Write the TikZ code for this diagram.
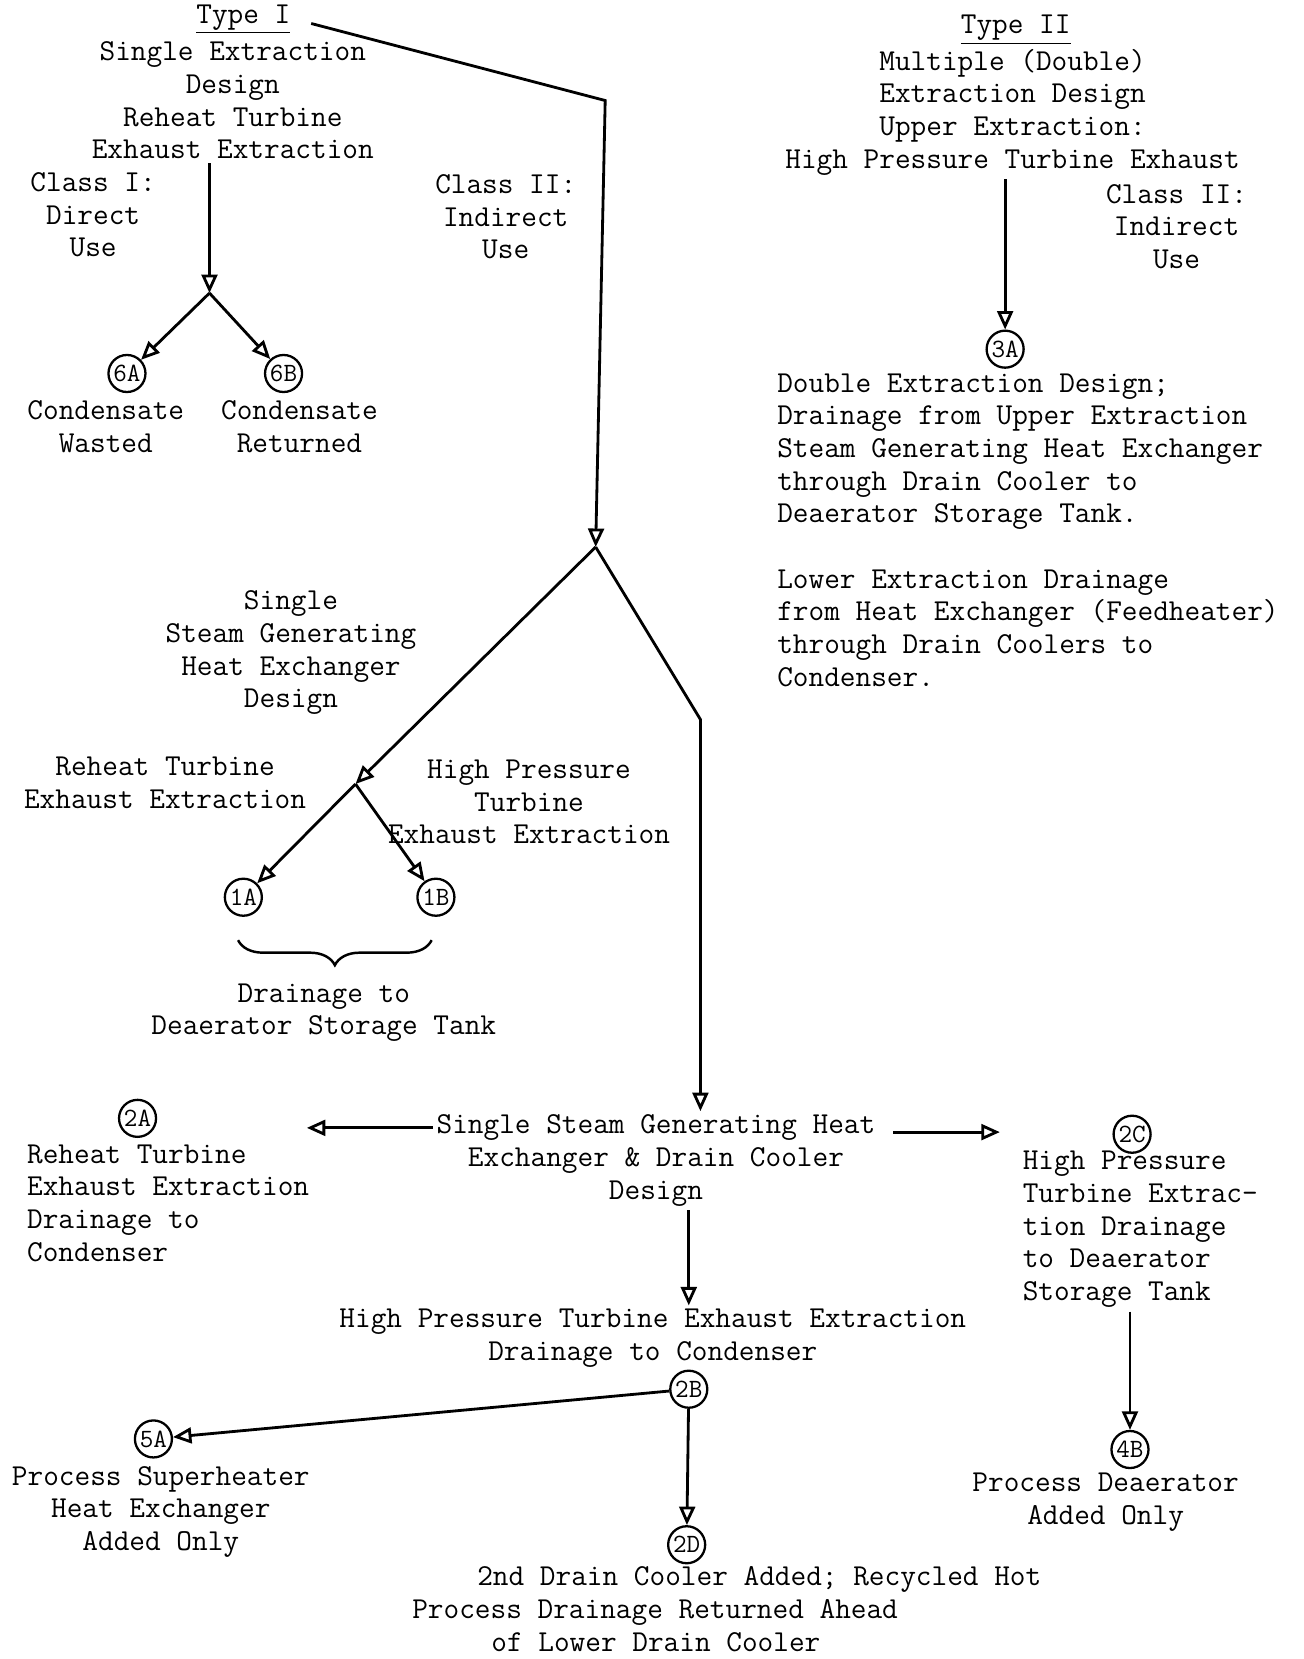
\documentclass[tikz,border=0pt]{standalone}
\usepackage{fontspec}
\usepackage{tikz}
\usetikzlibrary{positioning,arrows.meta,calc,decorations.pathreplacing}
\tikzset{
    txt/.style={
        font=\ttfamily\fontsize{17.3}{18.6}\selectfont,
        align=center,
        inner sep=2pt
    },
    ltxt/.style={
        txt,
        align=left,
        anchor=west
    },
    tag/.style={
        circle,
        draw,
        line width=1.3pt,
        minimum size=0.74cm,
        inner sep=0pt,
        font=\ttfamily\fontsize{15}{15}\selectfont
    },
    arr/.style={-{Triangle[open,length=10.5pt,width=9pt]},line width=1.6pt},
    brc/.style={decorate,decoration={brace,mirror,amplitude=0.5cm},line width=1.4pt}
}

\begin{document}
\begin{tikzpicture}[x=0.021152cm,y=-0.021152cm]
\useasboundingbox (0,0) rectangle (1232,1568);
\node[txt] (type1) at (230,18) {\underline{Type I}};
\node[txt] (t1) at (220,95) {Single Extraction\\Design\\Reheat Turbine\\Exhaust Extraction};
\node[txt] (cls1) at (88,203) {Class I:\\Direct\\Use};
\node[txt] (cls2) at (478,205) {Class II:\\Indirect\\Use};
\coordinate (j0) at (198,277);
\node[tag] (c6a) at (120,353) {6A};
\node[tag] (c6b) at (268,353) {6B};
\node[txt] (lab6a) at (100,403) {Condensate\\Wasted};
\node[txt] (lab6b) at (283,403) {Condensate\\Returned};

\node[txt] (type2) at (960,28) {\underline{Type II}};
\node[txt] (t2) at (957,106) {Multiple (Double)\\Extraction Design\\Upper Extraction:\\High Pressure Turbine Exhaust};
\node[txt] (cls3) at (1112,214) {Class II:\\Indirect\\Use};
\node[tag] (c3a) at (950,330) {3A};
\node[ltxt] (t3) at (731,501) {Double Extraction Design;\\Drainage from Upper Extraction\\Steam Generating Heat Exchanger\\through Drain Cooler to\\Deaerator Storage Tank.\\[18.6pt]Lower Extraction Drainage\\from Heat Exchanger (Feedheater)\\through Drain Coolers to\\Condenser.};

\coordinate (k1) at (572,95);
\coordinate (j1) at (563,517);
\coordinate (k2) at (662,680);
\node[txt] (sghe) at (275,617) {Single\\Steam Generating\\Heat Exchanger\\Design};
\coordinate (j2) at (336,741);
\node[txt] (rt) at (156,740) {Reheat Turbine\\Exhaust Extraction};
\node[txt] (hp) at (500,758) {High Pressure\\Turbine\\Exhaust Extraction};
\node[tag] (c1a) at (230,848) {1A};
\node[tag] (c1b) at (412,848) {1B};
\node[txt] (drn) at (306,957) {Drainage to\\Deaerator Storage Tank};

\node[txt] (ssg) at (620,1097) {Single Steam Generating Heat\\Exchanger \& Drain Cooler\\Design};
\coordinate (l2a) at (290,1066);
\coordinate (r2c) at (945,1070);
\node[tag] (c2a) at (130,1057) {2A};
\node[ltxt] (lab2a) at (22,1137) {Reheat Turbine\\Exhaust Extraction\\Drainage to\\Condenser};
\node[tag] (c2c) at (1070,1072) {2C};
\node[ltxt] (lab2c) at (963,1162) {High Pressure\\Turbine Extrac-\\tion Drainage\\to Deaerator\\Storage Tank};
\node[txt] (hpx) at (617,1265) {High Pressure Turbine Exhaust Extraction\\Drainage to Condenser};
\node[tag] (c2b) at (651,1313) {2B};
\node[tag] (c5a) at (145,1360) {5A};
\node[txt] (lab5a) at (152,1429) {Process Superheater\\Heat Exchanger\\Added Only};
\node[tag] (c2d) at (649,1460) {2D};
\node[ltxt] (lab2d) at (386,1521) {\hspace*{37pt}2nd Drain Cooler Added; Recycled Hot\\Process Drainage Returned Ahead\\\hspace*{45pt}of Lower Drain Cooler};
\node[tag] (c4b) at (1068,1370) {4B};
\node[txt] (lab4b) at (1045,1420) {Process Deaerator\\Added Only};

\draw[arr] (t1.south -| j0) -- (j0);
\draw[arr] (j0) -- (c6a);
\draw[arr] (j0) -- (c6b);
\draw[arr,shorten <=10pt] (type1.east) -- (k1) -- (j1);
\draw[arr] (t2.south -| c3a) -- (c3a);
\draw[arr] (j1) -- (j2);
\draw[arr] (j1) -- (k2) -- (k2 |- ssg.north);
\draw[arr] (j2) -- (c1a);
\draw[arr] (j2) -- (c1b);
\draw[brc] ($(c1a.south)+(-5,22)$) -- ($(c1b.south)+(-4,22)$);
\draw[arr] (ssg.west |- l2a) -- (l2a);
\draw[arr,shorten <=8pt] (ssg.east |- r2c) -- (r2c);
\draw[arr] (ssg.south -| c2b) -- (hpx.north -| c2b);
\draw[arr] (c2b) -- (c5a);
\draw[arr] (c2b) -- (c2d);
\draw[arr] (lab2c.south -| c4b) -- (c4b);
\end{tikzpicture}
\end{document}
